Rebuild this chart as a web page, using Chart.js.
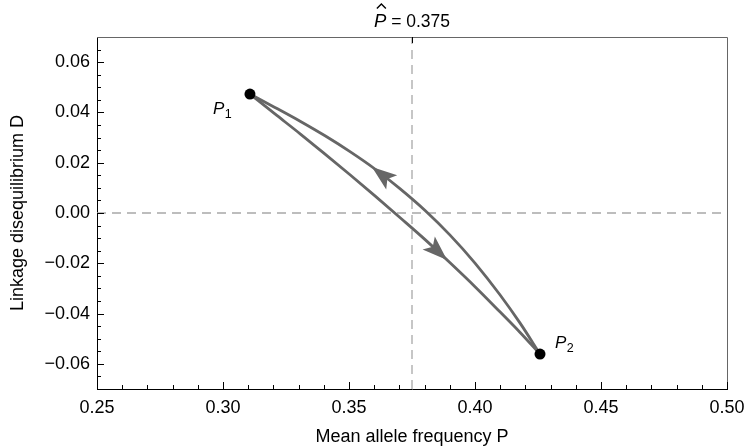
<!DOCTYPE html>
<html>
<head>
<meta charset="utf-8">
<script src="https://cdn.jsdelivr.net/npm/chart.js@4.4.1/dist/chart.umd.min.js"></script>
<style>
  html, body { margin: 0; padding: 0; background: #fff; }
  #wrap { width: 747px; height: 448px; }
</style>
</head>
<body>
<div id="wrap"><canvas id="ldChart"></canvas></div>
<script>
const FONT = '"Liberation Sans", Arial, Helvetica, sans-serif';

// lower branch: P1 -> P2
const lowerP = [0.3107, 0.3206, 0.3306, 0.3405, 0.3504, 0.3603, 0.3702, 0.3802, 0.3901, 0.4000, 0.4099, 0.4179, 0.4258];
const lowerD = [0.0473, 0.0394, 0.0315, 0.0234, 0.0152, 0.0068, -0.0018, -0.0106, -0.0198, -0.0293, -0.0393, -0.0475, -0.0561];

// upper branch: P2 -> P1
const upperP = [0.3107, 0.3206, 0.3306, 0.3405, 0.3504, 0.3603, 0.3702, 0.3802, 0.3901, 0.4000, 0.4099, 0.4179, 0.4258];
const upperD = [0.0473, 0.0420, 0.0365, 0.0307, 0.0244, 0.0175, 0.0097, 0.0010, -0.0088, -0.0199, -0.0325, -0.0438, -0.0561];

// the two end states
const endP = [0.3107, 0.4258];
const endD = [0.0473, -0.0561];
const endNames = ['1', '2'];

const pHat = 0.375;

// arrowheads: tip and a point just behind it on the same branch
const arrowTipP = [0.3591, 0.3889];
const arrowTipD = [0.0183, -0.0187];
const arrowBackP = [0.3702, 0.3802];
const arrowBackD = [0.0097, -0.0106];

const xRange = [0.25, 0.50];
const yRange = [-0.07, 0.07];
const xTicks = [0.25, 0.30, 0.35, 0.40, 0.45, 0.50];
const yTicks = [-0.06, -0.04, -0.02, 0.00, 0.02, 0.04, 0.06];
const xMinorStep = 0.01;
const yMinorStep = 0.005;

const LINE = '#666666';
const DASH = '#a8a8a8';

const fmt = v => (v < -1e-9 ? '\u2212' : '') + Math.abs(v).toFixed(2);
const pts = (xs, ys) => xs.map((x, i) => ({ x, y: ys[i] }));

const framePlugin = {
  id: 'frameTicks',
  afterDatasetsDraw(chart) {
    const { ctx, scales: { x, y } } = chart;
    ctx.save();

    // arrowheads
    ctx.fillStyle = LINE;
    arrowTipP.forEach((p, i) => {
      const tx = x.getPixelForValue(p), ty = y.getPixelForValue(arrowTipD[i]);
      const bx = x.getPixelForValue(arrowBackP[i]), by = y.getPixelForValue(arrowBackD[i]);
      const ang = Math.atan2(ty - by, tx - bx);
      ctx.save();
      ctx.translate(tx, ty);
      ctx.rotate(ang);
      ctx.beginPath();
      ctx.moveTo(0, 0);
      ctx.lineTo(-25, -9);
      ctx.lineTo(-19.5, 0);
      ctx.lineTo(-25, 9);
      ctx.closePath();
      ctx.fill();
      ctx.restore();
    });

    // P1 / P2 labels
    const offs = [[-37, 20], [15, -6]];
    endP.forEach((p, i) => {
      const px = x.getPixelForValue(p) + offs[i][0];
      const py = y.getPixelForValue(endD[i]) + offs[i][1];
      ctx.fillStyle = '#000';
      ctx.textBaseline = 'alphabetic';
      ctx.textAlign = 'left';
      ctx.font = 'italic 17px ' + FONT;
      ctx.fillText('P', px, py);
      const w = ctx.measureText('P').width;
      ctx.font = '12.5px ' + FONT;
      ctx.fillText(endNames[i], px + w + 0.5, py + 4);
    });
    ctx.restore();
  },
  afterDraw(chart) {
    const { ctx, chartArea: a, scales: { x, y } } = chart;
    ctx.save();

    // top and right frame
    ctx.strokeStyle = LINE;
    ctx.lineWidth = 1;
    ctx.beginPath();
    ctx.moveTo(a.left, a.top + 0.5);
    ctx.lineTo(a.right + 0.5, a.top + 0.5);
    ctx.lineTo(a.right + 0.5, a.bottom);
    ctx.stroke();

    // inward ticks
    ctx.strokeStyle = '#000';
    ctx.beginPath();
    const isMajor = (v, list) => list.some(t => Math.abs(t - v) < 1e-9);
    for (let v = xRange[0]; v <= xRange[1] + 1e-9; v += xMinorStep) {
      const len = isMajor(v, xTicks) ? 7 : 4;
      const px = Math.round(x.getPixelForValue(v)) + 0.5;
      ctx.moveTo(px, a.bottom);
      ctx.lineTo(px, a.bottom - len);
    }
    for (let v = yRange[0] + yMinorStep; v < yRange[1] - 1e-9; v += yMinorStep) {
      const len = isMajor(v, yTicks) ? 7 : 4;
      const py = Math.round(y.getPixelForValue(v)) + 0.5;
      ctx.moveTo(a.left, py);
      ctx.lineTo(a.left + len, py);
    }
    const hx = Math.round(x.getPixelForValue(pHat)) + 0.5;
    ctx.moveTo(hx, a.top);
    ctx.lineTo(hx, a.top + 6);
    ctx.stroke();

    // top label: P-hat = 0.375
    const partA = 'P', partB = ' = ' + pHat.toFixed(3);
    ctx.fillStyle = '#000';
    ctx.textBaseline = 'alphabetic';
    ctx.textAlign = 'left';
    ctx.font = 'italic 18.5px ' + FONT;
    const wA = ctx.measureText(partA).width;
    ctx.font = '17.5px ' + FONT;
    const wB = ctx.measureText(partB).width;
    const x0 = x.getPixelForValue(pHat) - (wA + wB) / 2;
    const base = 27;
    ctx.font = 'italic 18.5px ' + FONT;
    ctx.fillText(partA, x0, base);
    ctx.font = '17.5px ' + FONT;
    ctx.fillText(partB, x0 + wA, base);
    const hc = x0 + wA * 0.6;
    ctx.lineWidth = 1.4;
    ctx.beginPath();
    ctx.moveTo(hc - 4.5, 8.5);
    ctx.lineTo(hc, 4);
    ctx.lineTo(hc + 4.5, 8.5);
    ctx.stroke();
    ctx.restore();
  }
};

new Chart(document.getElementById('ldChart'), {
  type: 'scatter',
  data: {
    datasets: [
      {
        label: 'end states',
        data: pts(endP, endD),
        pointRadius: 5.5,
        pointBackgroundColor: '#000',
        pointBorderWidth: 0,
        showLine: false
      },
      {
        label: 'upper branch',
        data: pts(upperP, upperD),
        showLine: true,
        borderColor: LINE,
        borderWidth: 2.8,
        pointRadius: 0,
        cubicInterpolationMode: 'monotone'
      },
      {
        label: 'lower branch',
        data: pts(lowerP, lowerD),
        showLine: true,
        borderColor: LINE,
        borderWidth: 2.8,
        pointRadius: 0,
        cubicInterpolationMode: 'monotone'
      },
      {
        label: 'D = 0',
        data: pts(xRange, [0, 0]),
        showLine: true,
        borderColor: DASH,
        borderWidth: 1.3,
        borderDash: [9, 6],
        pointRadius: 0
      },
      {
        label: 'P hat',
        data: pts([pHat, pHat], yRange),
        showLine: true,
        borderColor: DASH,
        borderWidth: 1.3,
        borderDash: [9, 6],
        pointRadius: 0
      }
    ]
  },
  options: {
    responsive: true,
    maintainAspectRatio: false,
    animation: false,
    layout: { padding: { top: 37, right: 20, left: 0, bottom: 0 } },
    plugins: { legend: { display: false }, tooltip: { enabled: false } },
    scales: {
      x: {
        type: 'linear',
        min: xRange[0],
        max: xRange[1],
        afterBuildTicks: s => { s.ticks = xTicks.map(v => ({ value: v })); },
        afterFit: s => { s.height = 59; s.paddingLeft = 0; s.paddingRight = 0; },
        grid: { display: false, drawTicks: false },
        border: { display: true, color: '#000', width: 1 },
        ticks: { callback: fmt, color: '#000', font: { family: FONT, size: 18 }, padding: 8, maxRotation: 0 },
        title: { display: true, text: 'Mean allele frequency P', color: '#000', font: { family: FONT, size: 18 }, padding: 0 }
      },
      y: {
        type: 'linear',
        min: yRange[0],
        max: yRange[1],
        afterBuildTicks: s => { s.ticks = yTicks.map(v => ({ value: v })); },
        afterFit: s => { s.width = 97; s.paddingTop = 0; s.paddingBottom = 0; },
        grid: { display: false, drawTicks: false },
        border: { display: true, color: '#000', width: 1 },
        ticks: { callback: fmt, color: '#000', font: { family: FONT, size: 18 }, padding: 7 },
        title: { display: true, text: 'Linkage disequilibrium D', color: '#000', font: { family: FONT, size: 18 }, padding: { top: 7, bottom: 0 } }
      }
    }
  },
  plugins: [framePlugin]
});
</script>
</body>
</html>
